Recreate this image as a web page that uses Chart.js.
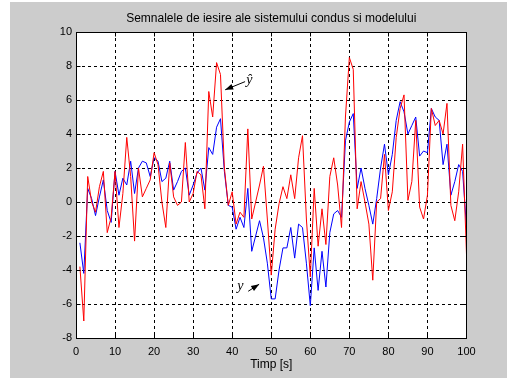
<!DOCTYPE html>
<html><head><meta charset="utf-8">
<script src="https://cdn.jsdelivr.net/npm/chart.js@4.4.0/dist/chart.umd.min.js"></script>
<style>html,body{margin:0;padding:0;background:#fff;overflow:hidden}canvas{display:block}</style>
</head><body><canvas id="c" width="507" height="378"></canvas>
<script>
const chartTitle = 'Semnalele de iesire ale sistemului condus si modelului';
const xAxisTitle = 'Timp [s]';
const times = [1,2,3,4,5,6,7,8,9,10,11,12,13,14,15,16,17,18,19,20,21,22,23,24,25,26,27,28,29,30,31,32,33,34,35,36,37,38,39,40,41,42,43,44,45,46,47,48,49,50,51,52,53,54,55,56,57,58,59,60,61,62,63,64,65,66,67,68,69,70,71,72,73,74,75,76,77,78,79,80,81,82,83,84,85,86,87,88,89,90,91,92,93,94,95,96,97,98,99,100];
// model output (y hat, red)
const yModel = [-3.8,-7.0,1.5,0.0,-0.6,0.9,1.8,-1.8,-0.9,1.8,-1.5,0.5,3.8,1.5,-2.3,2.0,0.3,0.8,1.3,2.9,2.2,0.0,-1.5,2.3,0.3,-0.2,0.0,3.5,0.0,0.5,1.8,1.6,-0.4,6.5,5.0,8.2,7.5,2.0,-0.2,0.6,-1.3,-0.6,-0.9,4.3,-1.0,0.0,1.0,2.1,-1.0,-4.3,-1.6,-0.1,0.9,0.2,1.6,0.2,2.6,3.9,-1.0,-4.4,0.8,-2.6,-0.4,-2.5,1.5,2.6,1.0,-1.5,5.0,8.5,7.8,-0.4,1.2,0.0,-1.3,-4.6,0.0,0.2,2.8,-0.5,0.6,3.8,5.5,6.3,0.1,1.2,4.8,-0.3,-1.0,0.4,5.5,4.5,4.8,4.0,5.8,-0.2,-1.1,0.6,3.4,-3.1];
// plant output (y, blue)
const yPlant = [-2.4,-4.2,0.8,0.2,-0.8,0.3,1.3,-0.5,-1.2,1.8,0.4,1.4,1.0,2.4,0.5,2.0,2.4,2.3,1.5,2.6,2.4,1.2,1.4,2.4,0.7,1.2,1.8,2.0,0.4,1.0,1.7,2.0,0.7,3.2,2.8,4.4,4.9,1.8,-0.2,-0.3,-1.6,-0.9,-1.5,0.8,-2.9,-2.0,-1.1,-2.1,-3.6,-5.7,-5.7,-4.0,-2.7,-2.7,-1.5,-3.3,-1.3,-1.5,-3.6,-6.1,-2.7,-5.2,-2.9,-5.0,-1.8,-0.7,-0.5,-0.9,3.6,4.7,5.2,0.8,2.0,0.8,-0.2,-1.3,0.2,2.0,3.4,1.6,2.8,4.8,5.9,5.3,4.0,4.5,5.0,2.7,3.0,2.9,5.5,5.0,4.8,2.2,3.4,0.4,1.2,2.2,1.8,-1.5];
const xTicks = [0,10,20,30,40,50,60,70,80,90,100];
const yTicks = [-8,-6,-4,-2,0,2,4,6,8,10];

// annotation placement (data units)
const notes = [
  {text:'ŷ', at:[43.6, 6.96], tail:[43.3, 7.08], head:[38.2, 6.6]},
  {text:'y', at:[41.3, -5.16], tail:[44.1, -5.25], head:[46.9, -4.84]}
];

const FONT = 'Liberation Sans, Arial, Helvetica, sans-serif';

const pts = (vals) => times.map((t, i) => ({x: t, y: vals[i]}));

const frame = {
  id: 'frame',
  beforeDraw(chart) {
    const {ctx, chartArea: a, width, height} = chart;
    ctx.save();
    ctx.fillStyle = '#ffffff'; ctx.fillRect(0, 0, width, height);
    ctx.fillStyle = '#cccccc'; ctx.fillRect(10, 2, width - 10, height - 2);
    ctx.fillStyle = '#ffffff'; ctx.fillRect(a.left, a.top, a.right - a.left, a.bottom - a.top);
    ctx.restore();
  },
  afterDatasetsDraw(chart) {
    const {ctx, scales} = chart;
    const xs = scales.x, ys = scales.y;
    const al = (p) => Math.floor(p) + 0.5;
    const L = al(xs.getPixelForValue(0)), R = al(xs.getPixelForValue(100));
    const T = al(ys.getPixelForValue(10)), B = al(ys.getPixelForValue(-8));
    ctx.save();
    ctx.strokeStyle = '#000'; ctx.lineWidth = 1; ctx.setLineDash([]);
    ctx.strokeRect(L, T, R - L, B - T);
    ctx.beginPath();
    xTicks.forEach(v => {
      const p = al(xs.getPixelForValue(v));
      ctx.moveTo(p, B); ctx.lineTo(p, B - 4);
      ctx.moveTo(p, T); ctx.lineTo(p, T + 4);
    });
    yTicks.forEach(v => {
      const p = al(ys.getPixelForValue(v));
      ctx.moveTo(L, p); ctx.lineTo(L + 4, p);
      ctx.moveTo(R, p); ctx.lineTo(R - 4, p);
    });
    ctx.stroke();
    // annotations
    ctx.fillStyle = '#000';
    ctx.font = 'italic 14px "Liberation Serif", "Times New Roman", serif';
    ctx.textBaseline = 'alphabetic'; ctx.textAlign = 'left';
    notes.forEach(n => {
      ctx.fillText(n.text, xs.getPixelForValue(n.at[0]), ys.getPixelForValue(n.at[1]));
      const x1 = xs.getPixelForValue(n.tail[0]), y1 = ys.getPixelForValue(n.tail[1]);
      const x2 = xs.getPixelForValue(n.head[0]), y2 = ys.getPixelForValue(n.head[1]);
      const ang = Math.atan2(y2 - y1, x2 - x1);
      ctx.beginPath(); ctx.moveTo(x1, y1); ctx.lineTo(x2, y2); ctx.stroke();
      ctx.beginPath();
      ctx.moveTo(x2, y2);
      ctx.lineTo(x2 - 8 * Math.cos(ang) + 3 * Math.sin(ang), y2 - 8 * Math.sin(ang) - 3 * Math.cos(ang));
      ctx.lineTo(x2 - 8 * Math.cos(ang) - 3 * Math.sin(ang), y2 - 8 * Math.sin(ang) + 3 * Math.cos(ang));
      ctx.closePath(); ctx.fill();
    });
    ctx.restore();
  }
};

new Chart(document.getElementById('c'), {
  type: 'line',
  data: {
    datasets: [
      {label: 'ŷ', data: pts(yModel), borderColor: '#ff0000', borderWidth: 1, pointRadius: 0, tension: 0, fill: false},
      {label: 'y', data: pts(yPlant), borderColor: '#0000ff', borderWidth: 1, pointRadius: 0, tension: 0, fill: false}
    ]
  },
  options: {
    responsive: false,
    animation: false,
    devicePixelRatio: 1,
    layout: {padding: {left: 0, right: 40.5, top: 0, bottom: 0}},
    plugins: {
      legend: {display: false},
      tooltip: {enabled: false},
      title: {display: true, fullSize: false, text: chartTitle, color: '#000',
        font: {family: FONT, size: 12, weight: 'normal'}, padding: {top: 11, bottom: 6.6}}
    },
    scales: {
      x: {
        type: 'linear', min: 0, max: 100,
        afterBuildTicks: (s) => { s.ticks = xTicks.map(v => ({value: v})); },
        afterFit: (s) => { s.height = 40; },
        ticks: {color: '#000', font: {family: FONT, size: 11}, padding: 7, maxRotation: 0, autoSkip: false},
        grid: {color: '#000', lineWidth: 1, drawTicks: false},
        border: {display: false, dash: [3, 3]},
        title: {display: true, text: xAxisTitle, color: '#000', font: {family: FONT, size: 12}, padding: {top: 0, bottom: 6}}
      },
      y: {
        type: 'linear', min: -8, max: 10,
        afterBuildTicks: (s) => { s.ticks = yTicks.map(v => ({value: v})); },
        afterFit: (s) => { s.width = 76; },
        ticks: {color: '#000', font: {family: FONT, size: 11}, padding: 4, autoSkip: false},
        grid: {color: '#000', lineWidth: 1, drawTicks: false},
        border: {display: false, dash: [3, 3]}
      }
    }
  },
  plugins: [frame]
});
</script></body></html>
